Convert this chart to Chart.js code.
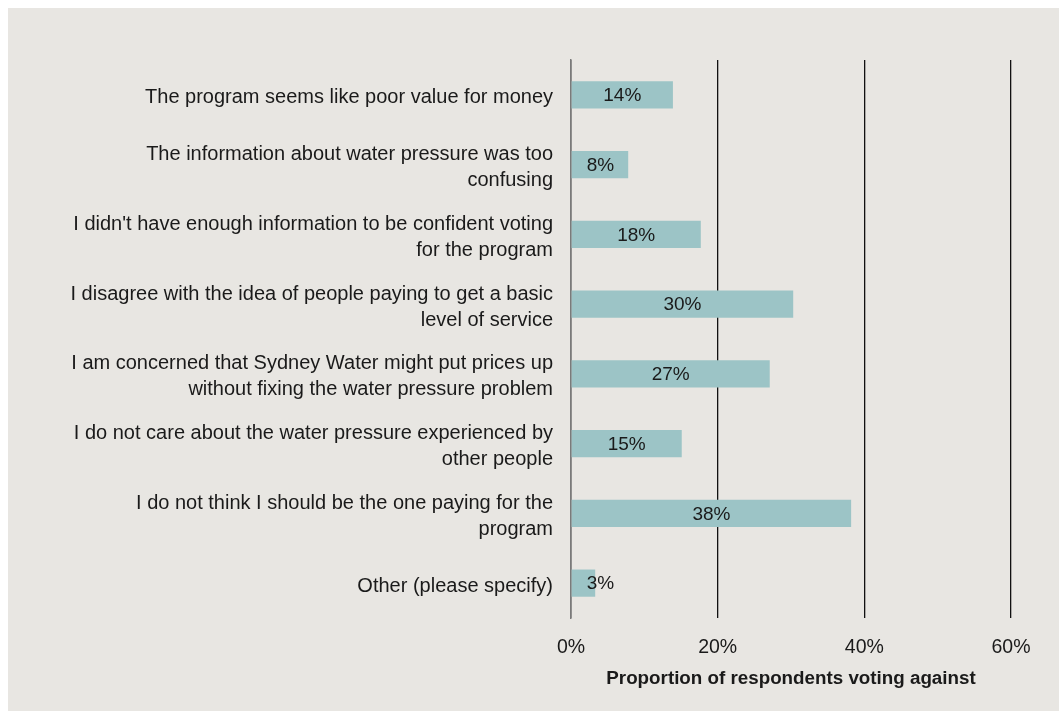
<!DOCTYPE html>
<html>
<head>
<meta charset="utf-8">
<script src="https://cdn.jsdelivr.net/npm/chart.js@4"></script>
<style>
  html, body { margin: 0; padding: 0; background: #ffffff; }
  #panel { position: absolute; left: 8px; top: 8px; width: 1051px; height: 703px; background: #e8e6e2; }
  #chart { display: block; }
</style>
</head>
<body>
<div id="panel"><canvas id="chart" width="1051" height="703"></canvas></div>
<script>
// Reasons for voting against (multi-line labels)
const reasons = [
    ['The program seems like poor value for money'],
    ['The information about water pressure was too', 'confusing'],
    ["I didn't have enough information to be confident voting", 'for the program'],
    ['I disagree with the idea of people paying to get a basic', 'level of service'],
    ['I am concerned that Sydney Water might put prices up', 'without fixing the water pressure problem'],
    ['I do not care about the water pressure experienced by', 'other people'],
    ['I do not think I should be the one paying for the', 'program'],
    ['Other (please specify)']
];
// Proportion voting against (%)
const shares = [13.9, 7.8, 17.7, 30.3, 27.1, 15.1, 38.2, 3.3];
const xTicks = [0, 20, 40, 60];

const fontFamily = '"Liberation Sans", Arial, sans-serif';
const textColor = '#1a1a1a';

// Draw the percentage labels inside the bars
const barLabels = {
    id: 'barLabels',
    afterDatasetsDraw(chart) {
        const ctx = chart.ctx;
        const meta = chart.getDatasetMeta(0);
        ctx.save();
        ctx.font = '19px ' + fontFamily;
        ctx.fillStyle = textColor;
        ctx.textAlign = 'center';
        ctx.textBaseline = 'middle';
        meta.data.forEach((bar, i) => {
            const text = Math.round(shares[i]) + '%';
            const w = ctx.measureText(text).width;
            let x = (bar.x + bar.base) / 2;
            x = Math.max(x, bar.base + w / 2 + 15);
            ctx.fillText(text, x, bar.y + 1);
        });
        ctx.restore();
    }
};

const ctx = document.getElementById('chart').getContext('2d');
new Chart(ctx, {
    type: 'bar',
    data: {
        labels: reasons,
        datasets: [{
            data: shares,
            backgroundColor: '#9cc4c6',
            barPercentage: 0.39,
            categoryPercentage: 1
        }]
    },
    options: {
        indexAxis: 'y',
        responsive: false,
        animation: false,
        layout: { padding: { top: 52, right: 48, left: 0, bottom: 0 } },
        plugins: {
            legend: { display: false },
            tooltip: { enabled: false }
        },
        scales: {
            x: {
                min: 0,
                max: 60,
                afterBuildTicks: axis => { axis.ticks = xTicks.map(v => ({ value: v })); },
                afterFit: axis => { axis.height = 93; },
                grid: { color: '#111111', lineWidth: 1.3, drawTicks: false },
                border: { display: false },
                ticks: {
                    padding: 18,
                    color: textColor,
                    font: { family: fontFamily, size: 19.5 },
                    callback: v => v + '%'
                },
                title: {
                    display: true,
                    text: 'Proportion of respondents voting against',
                    color: textColor,
                    font: { family: fontFamily, size: 18.8, weight: 'bold' },
                    padding: { top: 4, bottom: 21 }
                }
            },
            y: {
                afterFit: axis => { axis.width = 563; },
                grid: { display: false, drawTicks: false },
                border: { display: true, color: '#7a7a7a', width: 1.5 },
                ticks: {
                    padding: 18,
                    labelOffset: 3,
                    color: textColor,
                    font: { family: fontFamily, size: 20, lineHeight: 1.3 }
                }
            }
        }
    },
    plugins: [barLabels]
});
</script>
</body>
</html>
